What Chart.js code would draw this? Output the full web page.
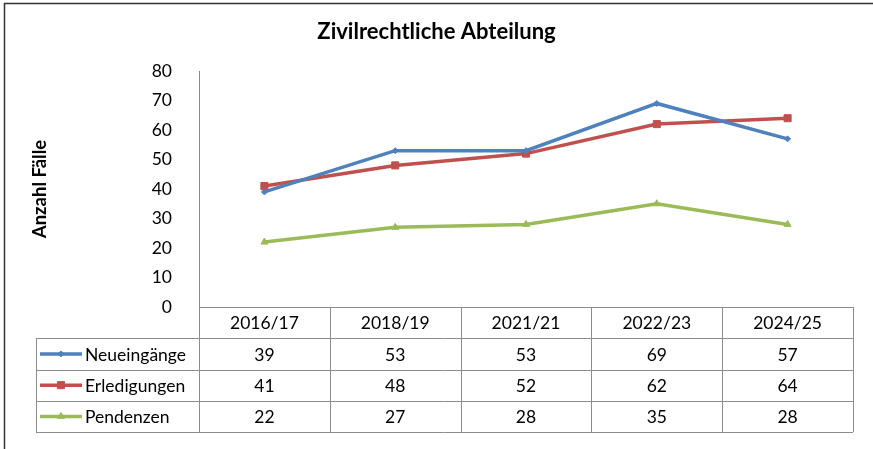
<!DOCTYPE html>
<html>
<head>
<meta charset="utf-8">
<script src="https://cdn.jsdelivr.net/npm/chart.js@4.4.1/dist/chart.umd.min.js"></script>
<style>
  html, body { margin: 0; padding: 0; background: #fff; }
  canvas { display: block; }
</style>
</head>
<body>
<canvas id="chart" width="873" height="449"></canvas>
<script>
// Zivilrechtliche Abteilung - Fälle pro Periode
const periods      = ['2016/17', '2018/19', '2021/21', '2022/23', '2024/25'];
const neueingaenge = [39, 53, 53, 69, 57];
const erledigungen = [41, 48, 52, 62, 64];
const pendenzen    = [22, 27, 28, 35, 28];
const yTicks       = [0, 10, 20, 30, 40, 50, 60, 70, 80];

const FONT = 'Lato, "Open Sans", sans-serif';
const ROW_H = 31.25;
const LEGEND_LEFT = 36;

// frame around the chart (top + left edge only, like the original cut-out)
const framePlugin = {
  id: 'frame',
  beforeDraw: function(chart) {
    const ctx = chart.ctx;
    ctx.save();
    ctx.fillStyle = '#fff';
    ctx.fillRect(0, 0, chart.width, chart.height);
    ctx.strokeStyle = '#333';
    ctx.lineWidth = 1.5;
    ctx.beginPath();
    ctx.moveTo(4.5, chart.height);
    ctx.lineTo(4.5, 3.5);
    ctx.lineTo(chart.width, 3.5);
    ctx.stroke();
    ctx.restore();
  }
};

// data table below the plot area
const tablePlugin = {
  id: 'dataTable',
  afterDraw: function(chart) {
    const ctx = chart.ctx;
    const area = chart.chartArea;
    const xs = chart.scales.x;
    const top = area.bottom;
    const colW = (area.right - area.left) / periods.length;
    const nRows = chart.data.datasets.length;
    const bottom = top + ROW_H * (nRows + 1);

    ctx.save();
    ctx.strokeStyle = '#8c8c8c';
    ctx.lineWidth = 1;
    ctx.beginPath();
    // header top
    ctx.moveTo(area.left, top + 0.5);
    ctx.lineTo(area.right, top + 0.5);
    // row lines
    for (let r = 1; r <= nRows + 1; r++) {
      const y = Math.round(top + ROW_H * r) + 0.5;
      ctx.moveTo(LEGEND_LEFT, y);
      ctx.lineTo(area.right, y);
    }
    // column lines
    for (let c = 0; c <= periods.length; c++) {
      const x = Math.round(area.left + colW * c) + 0.5;
      ctx.moveTo(x, top);
      ctx.lineTo(x, bottom);
    }
    ctx.moveTo(LEGEND_LEFT + 0.5, top + ROW_H);
    ctx.lineTo(LEGEND_LEFT + 0.5, bottom);
    ctx.stroke();

    ctx.fillStyle = '#000';
    ctx.font = '17.5px ' + FONT;
    ctx.textAlign = 'center';
    ctx.textBaseline = 'middle';
    periods.forEach(function(p, i) {
      ctx.fillText(p, xs.getPixelForValue(i), top + ROW_H / 2 + 1);
    });

    chart.data.datasets.forEach(function(ds, r) {
      const yMid = top + ROW_H * (r + 1.5) + 1;
      ds.data.forEach(function(v, i) {
        ctx.fillText(String(v), xs.getPixelForValue(i), yMid);
      });
      // legend key
      ctx.strokeStyle = ds.borderColor;
      ctx.fillStyle = ds.borderColor;
      ctx.lineWidth = 3.5;
      ctx.beginPath();
      ctx.moveTo(LEGEND_LEFT + 4, yMid - 1);
      ctx.lineTo(LEGEND_LEFT + 46, yMid - 1);
      ctx.stroke();
      ctx.lineWidth = 1;
      Chart.helpers.drawPoint(ctx, {
        pointStyle: ds.pointStyle,
        radius: ds.pointRadius,
        rotation: 0,
        borderWidth: 1
      }, LEGEND_LEFT + 25, yMid - 1);
      ctx.fillStyle = '#000';
      ctx.textAlign = 'left';
      ctx.fillText(ds.label, LEGEND_LEFT + 49, yMid);
      ctx.textAlign = 'center';
    });
    ctx.restore();
  }
};

function series(label, data, color, style, radius) {
  return {
    label: label, data: data,
    borderColor: color, backgroundColor: color,
    pointBackgroundColor: color, pointBorderColor: color,
    pointStyle: style, pointRadius: radius, pointHoverRadius: radius,
    pointBorderWidth: 1,
    borderWidth: 3.5, tension: 0
  };
}

new Chart(document.getElementById('chart'), {
  type: 'line',
  data: {
    labels: periods,
    datasets: [
      series('Neueingänge', neueingaenge, '#4f81bd', 'rectRot', 3),
      series('Erledigungen', erledigungen, '#c0504d', 'rect', 5),
      series('Pendenzen', pendenzen, '#9bbb59', 'triangle', 4)
    ]
  },
  plugins: [framePlugin, tablePlugin],
  options: {
    responsive: false,
    animation: false,
    layout: { padding: 0 },
    plugins: {
      legend: { display: false },
      tooltip: { enabled: false },
      title: {
        display: true,
        text: 'Zivilrechtliche Abteilung',
        color: '#000',
        font: { family: FONT, size: 22, weight: 'bold' },
        padding: { top: 19, bottom: 25.6 }
      }
    },
    scales: {
      x: {
        offset: true,
        grid: { display: false },
        border: { display: false },
        ticks: { display: false },
        afterFit: function(scale) { scale.height = 142; }
      },
      y: {
        min: 0, max: 80,
        afterBuildTicks: function(scale) { scale.ticks = yTicks.map(function(v) { return { value: v }; }); },
        grid: { display: false },
        border: { display: true, color: '#8c8c8c', width: 1 },
        ticks: { color: '#000', font: { family: FONT, size: 17.5 }, padding: 19 },
        title: {
          display: true,
          text: 'Anzahl Fälle',
          color: '#000',
          font: { family: FONT, size: 18.5, weight: 'bold' },
          padding: { top: 29, bottom: 0 }
        },
        afterFit: function(scale) { scale.width = 199; }
      },
      // empty right margin, keeps the title centred on the whole canvas
      yRight: {
        position: 'right',
        min: 0, max: 80,
        grid: { display: false },
        border: { display: false },
        ticks: { display: false },
        afterFit: function(scale) { scale.width = 20; }
      }
    }
  }
});
</script>
</body>
</html>
